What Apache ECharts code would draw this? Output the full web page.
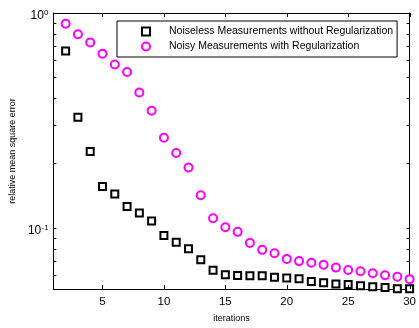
<!DOCTYPE html>
<html><head><meta charset="utf-8">
<script src="https://cdn.jsdelivr.net/npm/echarts@6/dist/echarts.min.js"></script>
<style>html,body{margin:0;padding:0;background:#fff}#c{width:419px;height:328px}</style>
</head><body><div id="c"></div>
<script>
var iterations = [2,3,4,5,6,7,8,9,10,11,12,13,14,15,16,17,18,19,20,21,22,23,24,25,26,27,28,29,30];
var noiseless = [0.665,0.327,0.227,0.156,0.144,0.126,0.1174,0.1076,0.0923,0.0858,0.080,0.0711,0.0636,0.0605,0.0601,0.0600,0.0599,0.0590,0.0585,0.0580,0.0564,0.0556,0.0549,0.0545,0.0539,0.0533,0.0528,0.0521,0.0521];
var noisy = [0.891,0.797,0.730,0.647,0.576,0.532,0.427,0.351,0.263,0.223,0.191,0.142,0.111,0.1007,0.0959,0.0852,0.0791,0.0762,0.0718,0.0701,0.0689,0.0674,0.0654,0.0637,0.0629,0.0616,0.0603,0.0593,0.0578];
var xTicks = [5,10,15,20,25,30];
var yLabelTicks = [0.1,1];
var yAllTicks = [0.06,0.07,0.08,0.09,0.1,0.2,0.3,0.4,0.5,0.6,0.7,0.8,0.9,1];
var seriesNames = ['Noiseless Measurements without Regularization','Noisy Measurements with Regularization'];
var xMin = 1, xMax = 30, yMin = 0.052, yMax = 1;

var font = 'Liberation Sans, Arial, sans-serif';
function pairs(xs, ys){ return xs.map(function(x,i){ return [x, ys[i]]; }); }
function expLabel(v){
  var e = Math.round(Math.log10(v));
  return '{b|10}{sup|' + e + '}';
}
var chart = echarts.init(document.getElementById('c'), null, {renderer:'canvas'});
var axisLine = {show:true, onZero:false, lineStyle:{color:'#000', width:1}};
chart.setOption({
  animation:false,
  backgroundColor:'#fff',
  grid:{left:51, right:7, top:13, bottom:33, containLabel:false},
  legend:{
    orient:'vertical', left:117, top:21,
    padding:[4,4,4,24], itemGap:2, itemWidth:8, itemHeight:8,
    borderColor:'#000', borderWidth:1, backgroundColor:'#fff',
    textStyle:{fontFamily:font, fontSize:10.5, color:'#000', lineHeight:13, padding:[0,0,0,14]},
    data:seriesNames
  },
  xAxis:[
    {type:'value', min:xMin, max:xMax, position:'bottom',
     name:'iterations', nameLocation:'middle', nameGap:25,
     nameTextStyle:{fontFamily:font, fontSize:9, color:'#000'},
     axisLine:axisLine,
     axisTick:{show:false},
     axisLabel:{show:true, customValues:xTicks, fontFamily:font, fontSize:11.5, color:'#000', margin:7},
     splitLine:{show:false}},
    {type:'value', min:xMin, max:xMax, position:'top',
     axisLine:axisLine, axisTick:{show:false},
     axisLabel:{show:false}, splitLine:{show:false}}
  ],
  yAxis:[
    {type:'log', logBase:10, min:yMin, max:yMax, position:'left',
     name:'relative mean square error', nameLocation:'middle', nameGap:36,
     nameTextStyle:{fontFamily:font, fontSize:9, color:'#000'},
     axisLine:axisLine,
     axisTick:{show:true, inside:true, length:3, customValues:yAllTicks, lineStyle:{color:'#000'}},
     axisLabel:{show:true, customValues:yLabelTicks, formatter:expLabel, margin:5,
       padding:[6,0,0,0],
       rich:{
         b:{fontFamily:font, fontSize:12, color:'#000', lineHeight:14},
         sup:{fontFamily:font, fontSize:8, color:'#000', lineHeight:8, verticalAlign:'top', padding:[0,0,6,0]}
       }},
     splitLine:{show:false}},
    {type:'log', logBase:10, min:yMin, max:yMax, position:'right',
     axisLine:axisLine,
     axisTick:{show:true, inside:true, length:3, customValues:yAllTicks, lineStyle:{color:'#000'}},
     axisLabel:{show:false}, splitLine:{show:false}}
  ],
  series:[
    {name:'xticks', type:'custom', xAxisIndex:0, yAxisIndex:0, silent:true, clip:false, z:5,
     data:xTicks.map(function(v){ return [v, yMin]; }),
     renderItem:function(params, api){
       var x = api.value(0);
       var b = api.coord([x, yMin]);
       var t = api.coord([x, yMax]);
       var px = Math.round(b[0]) + 0.5;
       return {type:'group', children:[
         {type:'line', shape:{x1:px, y1:b[1], x2:px, y2:b[1]-4}, style:{stroke:'#000', lineWidth:1}},
         {type:'line', shape:{x1:px, y1:t[1], x2:px, y2:t[1]+4}, style:{stroke:'#000', lineWidth:1}}
       ]};
     }},
    {name:seriesNames[0], type:'scatter', xAxisIndex:0, yAxisIndex:0, clip:false, z:3,
     symbol:'rect', symbolSize:7,
     itemStyle:{color:'#fff', borderColor:'#000', borderWidth:2, opacity:1},
     data:pairs(iterations, noiseless)},
    {name:seriesNames[1], type:'scatter', xAxisIndex:0, yAxisIndex:0, clip:false, z:3,
     symbol:'circle', symbolSize:8,
     itemStyle:{color:'#fff', borderColor:'#ff00ff', borderWidth:2, opacity:1},
     data:pairs(iterations, noisy)}
  ]
});
</script></body></html>
